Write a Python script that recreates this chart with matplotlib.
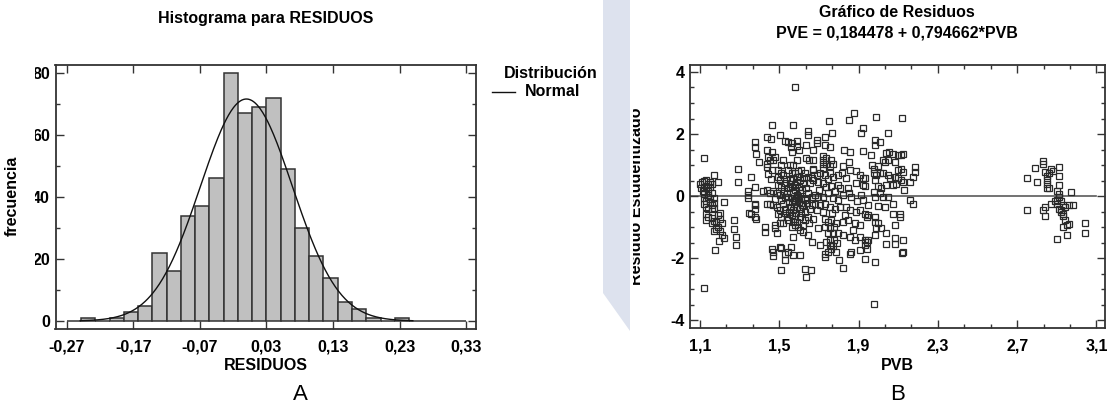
import numpy as np
import matplotlib
matplotlib.use("Agg")
import matplotlib.pyplot as plt
from matplotlib.ticker import FixedLocator, MultipleLocator, AutoMinorLocator, FuncFormatter
from matplotlib.patches import Polygon
from matplotlib.lines import Line2D
from matplotlib.transforms import Bbox, TransformedBbox

plt.rcParams["font.family"] = ["Liberation Sans", "DejaVu Sans"]
plt.rcParams["font.weight"] = "bold"

# ---------------- Histograma de residuos ----------------
bordes_clase = np.linspace(-0.27, 0.33, 29)          # 28 clases
frecuencias = [0, 1, 0, 1, 3, 5, 22, 16, 34, 37, 46, 80, 67, 69,
               72, 49, 30, 21, 14, 6, 4, 1, 0, 1, 0, 0, 0, 0]
ticks_residuos = [-0.27, -0.17, -0.07, 0.03, 0.13, 0.23, 0.33]
ticks_frecuencia = [0, 20, 40, 60, 80]

# ---------------- Gráfico de residuos (PVB, residuo estudentizado) ----------------
puntos_pvb_bajo = [
    (1.12, 1.24), (1.12, -2.96), (1.175, -1.72), (1.10, 0.38), (1.11, 0.46), (1.12, 0.50),
    (1.13, 0.53), (1.14, 0.40), (1.12, 0.30), (1.13, 0.25), (1.15, 0.47), (1.16, 0.38),
    (1.17, 0.68), (1.19, 0.46), (1.105, 0.25), (1.115, 0.15), (1.14, 0.18), (1.15, 0.28),
    (1.16, 0.10), (1.14, 0.05), (1.12, 0.08), (1.12, -0.05), (1.14, -0.02), (1.15, -0.10),
    (1.17, -0.05), (1.12, -0.25), (1.13, -0.35), (1.15, -0.20), (1.16, -0.30), (1.17, -0.22),
    (1.14, -0.40), (1.16, -0.42), (1.17, -0.38), (1.22, -0.18), (1.13, -0.15), (1.13, -0.56),
    (1.14, -0.66), (1.13, -0.76), (1.16, -0.70), (1.17, -0.80), (1.16, -0.88), (1.18, -0.82),
    (1.19, -0.60), (1.20, -0.72), (1.19, -0.98), (1.18, -1.05), (1.20, -1.12), (1.21, -1.25),
    (1.195, -1.45), (1.22, -1.35), (1.20, -0.55), (1.21, -0.85), (1.17, -1.12), (1.27, -0.77),
    (1.27, -1.06), (1.28, -1.30), (1.28, -1.58), (1.29, 0.87), (1.29, 0.47), (1.34, 0.15),
    (1.34, 0.05), (1.34, -0.06), (1.345, -0.55), (1.355, -0.56), (1.355, 0.62), (1.375, -0.29),
    (1.385, -0.72), (1.377, 1.75), (1.377, 1.59), (1.385, 1.35), (1.40, 1.11), (1.377, 0.30),
    (1.377, -0.24), (1.377, -0.40), (1.377, -0.67),
]
puntos_pvb_medio = [
    (1.58, 3.50), (1.465, 2.30), (1.567, 2.30), (1.503, 1.98), (1.436, 1.91), (1.458, 1.84),
    (1.528, 1.77), (1.542, 1.75), (1.565, 1.70), (1.587, 1.77), (1.587, 1.61), (1.646, 2.11),
    (1.646, 1.97), (1.637, 1.64), (1.436, 1.48), (1.461, 1.43), (1.558, 1.57), (1.562, 1.43),
    (1.60, 1.48), (1.444, 1.27), (1.453, 1.16), (1.44, 1.05), (1.44, 0.95), (1.469, 1.16),
    (1.478, 1.27), (1.52, 1.16), (1.511, 1.00), (1.553, 1.00), (1.57, 1.00), (1.587, 1.16),
    (1.637, 1.22), (1.65, 1.16), (1.671, 0.84), (1.495, 0.84), (1.511, 0.73), (1.491, 0.62),
    (1.503, 0.52), (1.52, 0.68), (1.545, 0.84), (1.562, 0.73), (1.579, 0.73), (1.595, 0.81),
    (1.612, 0.84), (1.629, 0.73), (1.646, 0.62), (1.663, 0.57), (1.654, 0.41), (1.553, 0.52),
    (1.57, 0.57), (1.587, 0.46), (1.604, 0.52), (1.621, 0.41), (1.495, 0.36), (1.511, 0.30),
    (1.528, 0.41), (1.545, 0.25), (1.562, 0.30), (1.579, 0.19), (1.436, 0.19), (1.419, 0.17),
    (1.436, -0.26), (1.453, -0.24), (1.469, -0.29), (1.486, 0.09), (1.503, 0.03), (1.511, -0.13),
    (1.528, -0.02), (1.545, -0.02), (1.562, -0.07), (1.579, -0.13), (1.595, -0.02), (1.612, -0.07),
    (1.629, -0.13), (1.646, 0.09), (1.663, -0.02), (1.486, -0.34), (1.503, -0.45), (1.528, -0.40),
    (1.553, -0.34), (1.57, -0.45), (1.587, -0.34), (1.604, -0.40), (1.629, -0.50), (1.654, -0.40),
    (1.663, -0.29), (1.495, -0.56), (1.511, -0.67), (1.537, -0.67), (1.562, -0.61), (1.579, -0.72),
    (1.604, -0.67), (1.629, -0.77), (1.646, -0.67), (1.478, -0.93), (1.503, -0.88), (1.52, -0.88),
    (1.545, -0.77), (1.57, -0.83), (1.595, -0.99), (1.621, -0.93), (1.427, -0.99), (1.427, -1.15),
    (1.478, -1.04), (1.486, -1.20), (1.562, -0.99), (1.579, -0.93), (1.604, -1.10), (1.621, -1.15),
    (1.663, -1.47), (1.646, -1.26), (1.57, -1.31), (1.461, -1.69), (1.469, -1.79), (1.503, -1.63),
    (1.528, -1.85), (1.545, -1.79), (1.558, -1.63), (1.57, -1.90), (1.604, -1.90), (1.528, -2.06),
    (1.507, -2.38), (1.628, -2.35), (1.66, -2.38), (1.637, -2.61), (1.47, -1.94), (1.509, -1.67),
    (1.54, 0.10), (1.59, 0.05), (1.60, -0.20), (1.575, -0.25), (1.55, -0.20), (1.615, 0.20),
    (1.62, -0.30), (1.52, -0.25), (1.57, 0.12), (1.60, 0.30), (1.635, 0.25), (1.64, -0.22),
    (1.585, -0.55), (1.55, -0.50), (1.65, -0.85), (1.61, -0.55), (1.525, 0.15), (1.47, 0.15),
    (1.455, 0.10), (1.48, -0.10), (1.46, 0.55), (1.465, 0.85), (1.445, 0.70),
    (1.535, 0.55), (1.59, 0.62), (1.625, 0.58), (1.565, -0.20), (1.585, -0.05), (1.605, 0.10),
    (1.53, -0.55), (1.59, -0.82), (1.615, -0.30), (1.64, -0.05), (1.555, 0.40), (1.58, 0.35),
]
puntos_pvb_alto = [
    (1.877, 2.67), (1.852, 2.45), (1.751, 2.43), (1.92, 2.18), (1.91, 2.04), (1.767, 2.04),
    (1.73, 1.91), (1.688, 1.80), (1.688, 1.70), (1.73, 1.65), (1.755, 1.57), (1.671, 1.48),
    (1.827, 1.50), (1.856, 1.43), (1.92, 1.46), (1.718, 1.29), (1.738, 1.22), (1.763, 1.18),
    (1.718, 1.16), (1.718, 1.03), (1.718, 0.92), (1.738, 1.05), (1.755, 0.97), (1.772, 1.03),
    (1.671, 1.16), (1.852, 1.11), (1.822, 0.97), (1.856, 0.84), (1.889, 0.81), (1.906, 0.68),
    (1.923, 0.60), (1.931, 0.57), (1.671, 0.89), (1.688, 0.68), (1.704, 0.73), (1.73, 0.68),
    (1.755, 0.73), (1.772, 0.62), (1.797, 0.68), (1.814, 0.73), (1.835, 0.57), (1.671, 0.52),
    (1.696, 0.46), (1.721, 0.41), (1.738, 0.30), (1.763, 0.32), (1.797, 0.36), (1.805, 0.25),
    (1.847, 0.25), (1.889, 0.41), (1.923, 0.36), (1.679, 0.03), (1.696, -0.02), (1.721, -0.02),
    (1.746, 0.09), (1.772, -0.07), (1.797, -0.13), (1.822, 0.03), (1.864, -0.02), (1.914, 0.03),
    (1.923, -0.11), (1.679, -0.24), (1.704, -0.29), (1.73, -0.24), (1.755, -0.34), (1.78, -0.40),
    (1.805, -0.34), (1.839, -0.34), (1.856, -0.43), (1.889, -0.50), (1.906, -0.45), (1.931, -0.56),
    (1.94, -0.67), (1.671, -0.72), (1.73, -0.72), (1.763, -0.77), (1.696, -1.04), (1.73, -0.99),
    (1.755, -1.04), (1.788, -0.88), (1.822, -0.83), (1.847, -0.77), (1.881, -0.88), (1.906, -0.93),
    (1.704, -1.58), (1.738, -1.47), (1.755, -1.42), (1.772, -1.20), (1.797, -1.20), (1.822, -1.26),
    (1.856, -1.31), (1.881, -1.42), (1.906, -1.31), (1.94, -1.47), (1.73, -1.85), (1.746, -1.79),
    (1.763, -1.69), (1.788, -1.79), (1.856, -1.85), (1.906, -1.74), (1.94, -1.69), (1.73, -1.96),
    (1.80, -2.04), (1.82, -2.30), (1.864, -1.79), (1.746, -0.83), (1.746, -1.20), (1.758, -1.58),
    (1.70, 0.20), (1.745, 0.55), (1.78, 0.15), (1.72, -0.50), (1.765, -0.55), (1.69, -0.45),
    (1.775, -0.98), (1.775, -1.40), (1.77, -1.62), (1.79, -1.50), (1.83, -0.60), (1.87, -1.10),
    (1.89, -0.15), (1.85, 0.10),
]
puntos_pvb_2 = [
    (1.986, 2.54), (2.12, 2.51), (2.049, 2.02), (1.981, 1.80), (1.981, 1.65), (2.007, 1.75),
    (1.965, 1.32), (2.023, 1.18), (2.04, 1.40), (2.052, 1.43), (2.074, 1.36), (2.099, 1.32),
    (2.112, 1.32), (2.124, 1.36), (2.032, 1.11), (2.049, 1.16), (2.086, 1.11), (1.998, 0.97),
    (1.978, 0.89), (1.978, 0.73), (1.99, 0.68), (2.007, 0.73), (2.023, 0.73), (2.116, 0.89),
    (2.124, 0.79), (2.099, 0.84), (2.183, 0.95), (2.183, 0.79), (2.175, 0.62), (2.158, 0.46),
    (2.049, 0.68), (2.057, 0.57), (2.082, 0.62), (2.099, 0.57), (2.116, 0.52), (1.981, 0.52),
    (1.998, 0.32), (2.015, 0.25), (2.04, 0.36), (2.074, 0.36), (2.09, 0.39), (2.124, 0.46),
    (2.129, 0.19), (1.978, 0.14), (1.981, -0.02), (2.007, 0.09), (2.023, -0.02), (2.049, -0.02),
    (2.158, -0.13), (2.175, -0.24), (1.948, -0.29), (1.998, -0.32), (2.032, -0.34), (2.074, -0.26),
    (2.107, -0.56), (2.107, -0.67), (2.074, -0.56), (1.948, -0.61), (1.981, -0.67), (1.981, -0.83),
    (1.998, -0.88), (1.99, -1.04), (2.082, -0.93), (1.931, -1.42), (1.931, -1.58), (1.948, -1.42),
    (1.981, -1.26), (2.015, -1.04), (2.04, -1.20), (2.04, -1.53), (2.086, -1.36), (2.086, -1.53),
    (2.124, -1.42), (2.12, -1.83), (2.124, -1.80), (1.931, -2.01), (1.981, -2.12), (1.978, -3.46),
    (1.931, 0.32), (1.97, 1.00),
]
puntos_pvb_3 = [
    (2.75, 0.57), (2.75, -0.45), (2.79, 0.90), (2.80, 0.47), (2.83, 1.14), (2.83, 1.02),
    (2.84, 0.78), (2.85, 0.64), (2.85, 0.51), (2.85, 0.38), (2.85, 0.25), (2.86, 0.25),
    (2.87, 0.87), (2.86, 0.74), (2.91, 0.93), (2.91, 0.64), (2.91, 0.35), (2.90, 0.18),
    (2.91, 0.08), (2.91, -0.02), (2.90, -0.13), (2.92, -0.17), (2.90, -0.26), (2.93, -0.28),
    (2.91, -0.40), (2.92, -0.52), (2.93, -0.63), (2.94, -0.78), (2.95, -0.93), (2.96, -0.90),
    (2.97, 0.13), (2.96, -0.28), (2.98, -0.30), (2.87, -0.25), (2.84, -0.36), (2.83, -0.46),
    (2.84, -0.65), (2.90, -1.38), (2.95, -1.24), (3.04, -0.85), (3.04, -1.17), (2.89, -0.14),
    (2.92, -0.46), (2.93, -0.58), (2.94, -0.35), (2.88, 0.80), (2.93, -1.00),
]
ticks_pvb = [1.1, 1.5, 1.9, 2.3, 2.7, 3.1]
ticks_residuo = [-4, -2, 0, 2, 4]

# ---------------------------------------------------------------------------
W, H = 1108, 405
fig = plt.figure(figsize=(W / 100, H / 100), dpi=100)


def fx(px):
    return px / W


def fy(py):
    return 1 - py / H


EDGE = "#333333"
FS = 11.5


def estilo_ejes(ax):
    for s in ax.spines.values():
        s.set_color(EDGE)
        s.set_linewidth(1.3)
    ax.tick_params(which="both", direction="in", top=True, right=True,
                   color=EDGE, width=1.0, labelsize=FS)
    ax.tick_params(which="major", length=5.5)
    ax.tick_params(which="minor", length=3)
    for lab in ax.get_xticklabels() + ax.get_yticklabels():
        lab.set_fontweight("bold")


def coma(dec):
    def f(v, pos):
        if abs(v) < 1e-9:
            v = 0.0
        return f"{v:.{dec}f}".replace(".", ",")
    return FuncFormatter(f)


# Marca de agua de fondo (franja vertical)
fig.add_artist(Polygon([(fx(603), fy(0)), (fx(630), fy(0)), (fx(630), fy(331)), (fx(603), fy(293))],
                       closed=True, transform=fig.transFigure, facecolor="#dde2ee",
                       edgecolor="none", zorder=0))

# ---------------- Panel A ----------------
axA = fig.add_axes([fx(55.5), fy(329.4), fx(476 - 55.5), (329.4 - 65.2) / H])
frec = np.array(frecuencias, dtype=float)
anchos = np.diff(bordes_clase)
axA.bar(bordes_clase[:-1], frec, width=anchos, align="edge", color="#c0c0c0",
        edgecolor=EDGE, linewidth=1.1, zorder=2)

# Curva normal ajustada a los datos agrupados
centros = bordes_clase[:-1] + anchos / 2
n_obs = frec.sum()
media = np.sum(centros * frec) / n_obs
desv = np.sqrt(np.sum(frec * (centros - media) ** 2) / n_obs)
xs = np.linspace(-0.25, 0.25, 400)
ys = n_obs * anchos[0] / (desv * np.sqrt(2 * np.pi)) * np.exp(-0.5 * ((xs - media) / desv) ** 2)
axA.plot(xs, ys, color="#111111", lw=1.0, zorder=3)

axA.set_xlim(-0.2872, 0.345)
axA.set_ylim(-2.7, 82.5)
axA.xaxis.set_major_locator(FixedLocator(ticks_residuos))
axA.xaxis.set_major_formatter(coma(2))
axA.yaxis.set_major_locator(FixedLocator(ticks_frecuencia))
axA.yaxis.set_minor_locator(MultipleLocator(10))
axA.yaxis.set_major_formatter(FuncFormatter(lambda v, p: f"{v:.0f}"))
estilo_ejes(axA)
axA.tick_params(axis="x", pad=7)
axA.tick_params(axis="y", pad=4)
clip_a = TransformedBbox(Bbox([[fx(35), 0], [1, 1]]), fig.transFigure)
for lab in axA.get_yticklabels():
    lab.set_clip_box(clip_a)

fig.text(fx(266), fy(19), "Histograma para RESIDUOS", ha="center", va="center",
         fontsize=FS, fontweight="bold")
fig.text(fx(266), fy(365.5), "RESIDUOS", ha="center", va="center", fontsize=FS, fontweight="bold")
fig.text(fx(12), fy(196), "frecuencia", ha="center", va="center", rotation=90,
         fontsize=FS, fontweight="bold")
fig.text(fx(504), fy(73), "Distribución", ha="left", va="center", fontsize=FS, fontweight="bold")
fig.add_artist(Line2D([fx(492), fx(515)], [fy(92), fy(92)], transform=fig.transFigure,
                      color="#111111", lw=1.0))
fig.text(fx(525), fy(92), "Normal", ha="left", va="center", fontsize=FS, fontweight="bold")
fig.text(fx(300), fy(394), "A", ha="center", va="center", fontsize=16, fontweight="normal")

# ---------------- Panel B ----------------
axB = fig.add_axes([fx(690), fy(327.8), fx(1105 - 690), (327.8 - 65.2) / H])
todos = puntos_pvb_bajo + puntos_pvb_medio + puntos_pvb_alto + puntos_pvb_2 + puntos_pvb_3
pvb = np.array([p[0] for p in todos])
residuo = np.array([p[1] for p in todos])
axB.plot([1.05, 3.1], [0, 0], color="#5a5a5a", lw=1.2, zorder=1)
axB.plot(pvb, residuo, linestyle="none", marker="s", markersize=4.7,
         markerfacecolor="none", markeredgecolor="#2a2a2a", markeredgewidth=0.9, zorder=2)

axB.set_xlim(1.0496, 3.143)
axB.set_ylim(-4.238, 4.216)
axB.xaxis.set_major_locator(FixedLocator(ticks_pvb))
axB.xaxis.set_minor_locator(AutoMinorLocator(3))
axB.xaxis.set_major_formatter(coma(1))
axB.yaxis.set_major_locator(FixedLocator(ticks_residuo))
axB.yaxis.set_minor_locator(AutoMinorLocator(4))
axB.yaxis.set_major_formatter(coma(0))
estilo_ejes(axB)
axB.tick_params(axis="x", pad=8)
axB.tick_params(axis="y", pad=4)

fig.text(fx(897), fy(12.7), "Gráfico de Residuos", ha="center", va="center",
         fontsize=FS, fontweight="bold")
fig.text(fx(897), fy(33.4), "PVE = 0,184478 + 0,794662*PVB", ha="center", va="center",
         fontsize=FS, fontweight="bold")
fig.text(fx(897), fy(366), "PVB", ha="center", va="center", fontsize=FS, fontweight="bold")
ylab_b = fig.text(fx(636.5), fy(196), "Residuo Estudentizado", ha="center", va="center",
                  rotation=90, fontsize=FS, fontweight="bold")
ylab_b.set_clip_box(TransformedBbox(Bbox([[fx(633), 0], [1, 1]]), fig.transFigure))
fig.text(fx(898), fy(394), "B", ha="center", va="center", fontsize=16, fontweight="normal")

fig.savefig("out.png", dpi=100)
